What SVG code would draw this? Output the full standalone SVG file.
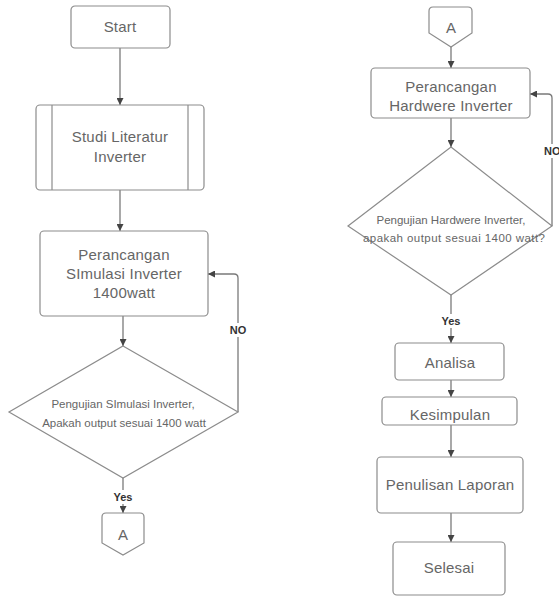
<svg xmlns="http://www.w3.org/2000/svg" width="559" height="597" viewBox="0 0 559 597">
<defs>
<marker id="ah" viewBox="0 0 10 10" refX="10" refY="5" markerWidth="7" markerHeight="7" orient="auto" markerUnits="userSpaceOnUse">
<path d="M0,0 L10,5 L0,10 Z" fill="#444"/>
</marker>
</defs>
<style>
.box{fill:#fff;stroke:#8c8c8c;stroke-width:1.2}
.t{font-family:"Liberation Sans",Arial,sans-serif;font-size:15px;fill:#666;text-anchor:middle;letter-spacing:0.2px}
.s{font-family:"Liberation Sans",Arial,sans-serif;font-size:11.5px;fill:#666;text-anchor:middle}
.lbl{font-family:"Liberation Sans",Arial,sans-serif;font-size:11px;font-weight:bold;fill:#333;text-anchor:middle}
.c{fill:none;stroke:#8c8c8c;stroke-width:1.2}
.ca{fill:none;stroke:#7a7a7a;stroke-width:1.3;marker-end:url(#ah)}
</style>
<rect width="559" height="597" fill="#fff"/>
<g id="connectors">
<line class="ca" x1="120" y1="48" x2="120" y2="105"/>
<line class="ca" x1="120" y1="190" x2="120" y2="231"/>
<line class="ca" x1="123" y1="316" x2="123" y2="346"/>
<path class="ca" d="M238,412 L238,278 Q238,274 234,274 L208,274"/>
<rect x="229" y="323" width="19" height="14" fill="#fff"/>
<text class="lbl" x="238" y="334">NO</text>
<line class="ca" x1="123" y1="478" x2="123" y2="513"/>
<rect x="110" y="490" width="27" height="14" fill="#fff"/>
<text class="lbl" x="123" y="501">Yes</text>
<line class="ca" x1="451" y1="47" x2="451" y2="68"/>
<line class="ca" x1="451" y1="118" x2="451" y2="147"/>
<path class="ca" d="M552,226 L552,98 Q552,94 548,94 L530,94"/>
<rect x="543" y="144" width="16" height="14" fill="#fff"/>
<text class="lbl" x="544" y="155" style="text-anchor:start">NO</text>
<line class="ca" x1="451" y1="295" x2="451" y2="343"/>
<rect x="437" y="314" width="28" height="14" fill="#fff"/>
<text class="lbl" x="451" y="325">Yes</text>
<line class="ca" x1="451" y1="380" x2="451" y2="397"/>
<line class="ca" x1="451" y1="425" x2="451" y2="457"/>
<line class="ca" x1="451" y1="513" x2="451" y2="542"/>
</g>
<g id="start">
<rect class="box" x="71" y="6" width="99" height="42" rx="4"/>
<text class="t" x="120" y="32">Start</text>
</g>
<g id="studi">
<rect class="box" x="36" y="105" width="168" height="85" rx="4"/>
<line class="c" x1="52" y1="105" x2="52" y2="190"/>
<line class="c" x1="188" y1="105" x2="188" y2="190"/>
<text class="t" x="120" y="142">Studi Literatur</text>
<text class="t" x="120" y="162">Inverter</text>
</g>
<g id="perancangan-sim">
<rect class="box" x="40" y="231" width="168" height="85" rx="4"/>
<text class="t" x="124" y="260">Perancangan</text>
<text class="t" x="124" y="279">SImulasi Inverter</text>
<text class="t" x="124" y="298">1400watt</text>
</g>
<g id="uji-sim">
<polygon class="box" points="123,346 238,412 123,478 9,412"/>
<text class="s" x="123" y="408">Pengujian SImulasi Inverter,</text>
<text class="s" x="124" y="427">Apakah output sesuai 1400 watt</text>
</g>
<g id="conn-a-out">
<path class="box" d="M106,513 L140,513 Q144,513 144,517 L144,543 L123,555 L102,543 L102,517 Q102,513 106,513 Z"/>
<text class="t" x="123" y="540">A</text>
</g>
<g id="conn-a-in">
<path class="box" d="M433,7 L468,7 Q472,7 472,11 L472,33 L451,47 L429,33 L429,11 Q429,7 433,7 Z"/>
<text class="t" x="451" y="33">A</text>
</g>
<g id="perancangan-hw">
<rect class="box" x="371" y="68" width="159" height="50" rx="4"/>
<text class="t" x="451" y="92">Perancangan</text>
<text class="t" x="451" y="111">Hardwere Inverter</text>
</g>
<g id="uji-hw">
<polygon class="box" points="451,147 552,226 451,295 348,226"/>
<text class="s" x="451" y="224">Pengujian Hardwere Inverter,</text>
<text class="s" x="454" y="242" textLength="182" lengthAdjust="spacing">apakah output sesuai 1400 watt?</text>
</g>
<g id="analisa">
<rect class="box" x="395" y="343" width="109" height="37" rx="4"/>
<text class="t" x="450" y="368">Analisa</text>
</g>
<g id="kesimpulan">
<rect class="box" x="382" y="397" width="135" height="28" rx="4"/>
<text class="t" x="450" y="420">Kesimpulan</text>
</g>
<g id="penulisan">
<rect class="box" x="377" y="457" width="146" height="56" rx="4"/>
<text class="t" x="450" y="490">Penulisan Laporan</text>
</g>
<g id="selesai">
<rect class="box" x="393" y="542" width="112" height="53" rx="4"/>
<text class="t" x="449" y="573">Selesai</text>
</g>
</svg>
